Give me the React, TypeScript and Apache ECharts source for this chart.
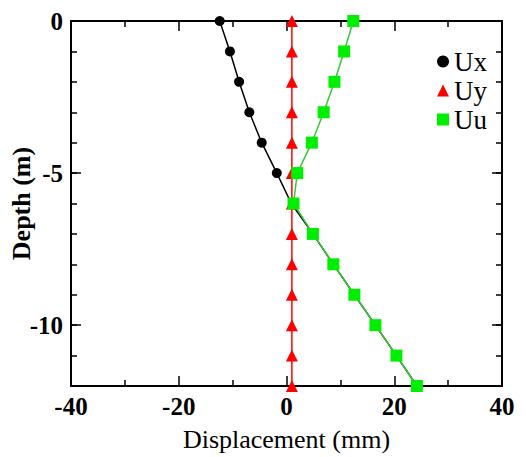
import React, { useEffect, useRef } from "react";
import * as echarts from "echarts";

const depths = [0, -1, -2, -3, -4, -5, -6, -7, -8, -9, -10, -11, -12];
const uxValues = [-12.4, -10.5, -8.8, -6.9, -4.6, -1.8, 0.9, 4.9, 8.7, 12.6, 16.5, 20.4, 24.2];
const uxMarked = [true, true, true, true, true, true, false, false, false, false, false, false, false];
const uyValues = [1, 1, 1, 1, 1, 1, 1, 1, 1, 1, 1, 1, 1];
const uuValues = [12.4, 10.7, 8.9, 6.9, 4.7, 2.0, 1.3, 4.9, 8.7, 12.6, 16.5, 20.4, 24.2];
const seriesNames = ["Ux", "Uy", "Uu"];
const yMajorTicks = [0, -5, -10];
const xTitle = "Displacement (mm)";
const yTitle = "Depth (m)";

const FONT = "Liberation Serif";

export default function App() {
  const ref = useRef<HTMLDivElement>(null);
  useEffect(() => {
    if (!ref.current) return;
    const chart = echarts.init(ref.current, null, { renderer: "svg" });
    const tickLine = () => ({ color: "#000", width: 1.5 });
    const axisLine = () => ({ show: true, onZero: false, lineStyle: { color: "#000", width: 2 } });
    const xAxis = (pos: string, labels: boolean) => ({
      type: "value",
      position: pos,
      min: -40,
      max: 40,
      interval: 20,
      axisLine: axisLine(),
      splitLine: { show: false },
      axisTick: { show: true, inside: true, length: 10, lineStyle: tickLine() },
      minorTick: { show: true, splitNumber: 2, length: 6, lineStyle: tickLine() },
      axisLabel: labels
        ? { show: true, color: "#000", fontFamily: FONT, fontWeight: "bold", fontSize: 25 }
        : { show: false },
    });
    const yMajor = (pos: string, labels: boolean) => ({
      type: "value",
      position: pos,
      min: -12,
      max: 0,
      interval: 1,
      axisLine: axisLine(),
      splitLine: { show: false },
      axisTick: { show: true, inside: true, length: 10, lineStyle: tickLine(), customValues: yMajorTicks },
      axisLabel: labels
        ? { show: true, color: "#000", fontFamily: FONT, fontWeight: "bold", fontSize: 25, customValues: yMajorTicks }
        : { show: false },
    });
    const yMinor = (pos: string) => ({
      type: "value",
      position: pos,
      min: -12,
      max: 0,
      interval: 1,
      axisLine: axisLine(),
      splitLine: { show: false },
      axisTick: { show: true, inside: true, length: 6, lineStyle: tickLine() },
      axisLabel: { show: false },
    });
    const xBottom: any = xAxis("bottom", true);
    xBottom.name = xTitle;
    xBottom.nameLocation = "middle";
    xBottom.nameGap = 40;
    xBottom.nameMoveOverlap = false;
    xBottom.nameTextStyle = { color: "#000", fontFamily: FONT, fontSize: 26 };
    const yLeft: any = yMajor("left", true);
    yLeft.name = yTitle;
    yLeft.nameLocation = "middle";
    yLeft.nameGap = 37;
    yLeft.nameMoveOverlap = false;
    yLeft.nameTextStyle = { color: "#000", fontFamily: FONT, fontWeight: "bold", fontSize: 26 };

    chart.setOption({
      animation: false,
      backgroundColor: "#fff",
      textStyle: { fontFamily: FONT },
      grid: { left: 62, right: 24, top: 21, bottom: 68 },
      legend: {
        orient: "vertical",
        right: 34,
        top: 43,
        itemGap: 2,
        itemWidth: 12,
        itemHeight: 12,
        textStyle: { color: "#000", fontFamily: FONT, fontSize: 27 },
        data: [
          { name: "Ux", icon: "circle" },
          { name: "Uy", icon: "triangle" },
          { name: "Uu", icon: "rect" },
        ],
      },
      xAxis: [xBottom, xAxis("top", false)],
      yAxis: [yLeft, yMajor("right", false), yMinor("left"), yMinor("right")],
      series: [
        {
          name: seriesNames[0],
          type: "line",
          color: "#000",
          symbol: "circle",
          symbolSize: 10,
          lineStyle: { color: "#000", width: 1.5 },
          itemStyle: { color: "#000" },
          data: uxValues.map((v, i) => ({ value: [v, depths[i]], symbolSize: uxMarked[i] ? 10 : 0 })),
        },
        {
          name: seriesNames[1],
          type: "line",
          color: "#ff0000",
          symbol: "triangle",
          symbolSize: 12,
          lineStyle: { color: "#ff0000", width: 1.5 },
          itemStyle: { color: "#ff0000" },
          data: uyValues.map((v, i) => [v, depths[i]]),
        },
        {
          name: seriesNames[2],
          type: "line",
          color: "#00ee00",
          symbol: "rect",
          symbolSize: 12,
          lineStyle: { color: "#33cc33", width: 1.5 },
          itemStyle: { color: "#00ee00" },
          data: uuValues.map((v, i) => [v, depths[i]]),
        },
      ],
    });
    return () => chart.dispose();
  }, []);
  return <div ref={ref} style={{ width: 526, height: 457, position: "absolute", left: 0, top: 0 }} />;
}
